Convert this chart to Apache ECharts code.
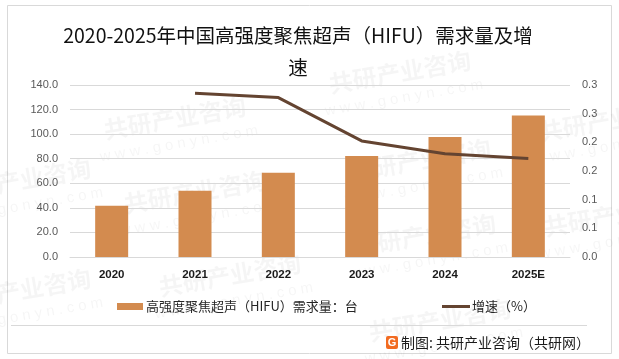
<!DOCTYPE html>
<html>
<head>
<meta charset="utf-8">
<script src="https://cdn.jsdelivr.net/npm/echarts@6/dist/echarts.min.js"></script>
<style>
html,body{margin:0;padding:0;background:#fff;}
#c{width:619px;height:359px;}
</style>
</head>
<body>
<div id="c"></div>
<script>
var titleText = '2020-2025年中国高强度聚焦超声（HIFU）需求量及增\n速';
var categories = ['2020', '2021', '2022', '2023', '2024', '2025E'];
var demand = [41.7, 53.9, 68.5, 82.3, 97.7, 115.1];
var growth = [null, 0.2855, 0.278, 0.2025, 0.180, 0.172];
var barName = '高强度聚焦超声（HIFU）需求量：台';
var lineName = '增速（%）';
var sourceText = '制图: 共研产业咨询（共研网）';
var wmMain = '共研产业咨询';
var wmSub = 'w w w . g o n y n . c o m';

var CJK = '"Noto Sans CJK SC", "Noto Sans", sans-serif';
var LAT = '"Liberation Sans", "DejaVu Sans", sans-serif';
var BAR = '#D38B4F';
var LINE = '#644431';

var wmPos = [[175,118],[195,192],[230,275],[400,72],[420,160],[425,235],[610,120],[615,215],[440,320],[20,180],[20,290]];
var graphics = [];
wmPos.forEach(function(p){
  graphics.push({type:'text', x:p[0], y:p[1], rotation:0.17, z:-1, silent:true,
    style:{text:wmMain, align:'center', verticalAlign:'middle', font:'bold 24px ' + CJK, fill:'rgba(0,0,0,0.038)'}});
  graphics.push({type:'text', x:p[0]+4, y:p[1]+26, rotation:0.17, z:-1, silent:true,
    style:{text:wmSub, align:'center', verticalAlign:'middle', font:'15px ' + LAT, fill:'rgba(0,0,0,0.038)'}});
});
graphics.push({type:'rect', z:-2, silent:true, shape:{x:7.5,y:5.5,width:604,height:348},
  style:{fill:'none', stroke:'#d9d9d9', lineWidth:1}});
graphics.push({type:'line', silent:true, shape:{x1:11,y1:325.5,x2:587,y2:325.5},
  style:{stroke:'#d9d9d9', lineWidth:1}});
graphics.push({type:'text', x:298, y:20, silent:true,
  style:{text:titleText, align:'center', verticalAlign:'top', lineHeight:32, font:'19.5px ' + CJK, fill:'#111'}});
graphics.push({type:'rect', silent:true, shape:{x:386,y:336,width:12,height:13,r:2},
  style:{fill:'#F26B21'}});
graphics.push({type:'text', x:392, y:342.5, silent:true,
  style:{text:'G', align:'center', verticalAlign:'middle', font:'bold 11px ' + LAT, fill:'#fff'}});
graphics.push({type:'text', x:401, y:343, silent:true,
  style:{text:sourceText, align:'left', verticalAlign:'middle', font:'14px ' + CJK, fill:'#1a1a1a'}});

var chart = echarts.init(document.getElementById('c'), null, {renderer:'canvas'});
chart.setOption({
  animation:false,
  backgroundColor:'#fff',
  grid:{left:70, right:49, top:85, bottom:102, containLabel:false},
  legend:[
    {data:[{name:barName, icon:'rect'}], left:117, top:300, itemWidth:26, itemHeight:7, padding:0,
     textStyle:{fontSize:13, fontFamily:CJK, color:'#262626', padding:[0,0,0,-2]}},
    {data:[{name:lineName, icon:'rect'}], left:442, top:300, itemWidth:28, itemHeight:3, padding:0,
     textStyle:{fontSize:13, fontFamily:CJK, color:'#262626', padding:[0,0,0,-3]}}
  ],
  xAxis:{type:'category', data:categories,
    axisLine:{show:true, lineStyle:{color:'#d9d9d9'}}, axisTick:{show:false},
    axisLabel:{margin:12, fontSize:11.5, fontWeight:'bold', fontFamily:LAT, color:'#1a1a1a'}},
  yAxis:[
    {type:'value', min:0, max:140, interval:20,
     axisLine:{show:false}, axisTick:{show:false},
     splitLine:{lineStyle:{color:'#d9d9d9'}},
     axisLabel:{margin:12, fontSize:11, fontFamily:LAT, color:'#595959', formatter:function(v){return v.toFixed(1);}}},
    {type:'value', min:0, max:0.3, interval:0.05, position:'right',
     axisLine:{show:false}, axisTick:{show:false}, splitLine:{show:false},
     axisLabel:{margin:12, fontSize:11, fontFamily:LAT, color:'#595959',
       formatter:function(v){return (Math.round(v*10+0.01)/10).toFixed(1);}}}
  ],
  series:[
    {name:barName, type:'bar', data:demand, barWidth:33, itemStyle:{color:BAR}, yAxisIndex:0},
    {name:lineName, type:'line', data:growth, yAxisIndex:1, showSymbol:false, symbol:'none',
     lineStyle:{width:3, color:LINE}, itemStyle:{color:LINE}}
  ],
  graphic:graphics
});
</script>
</body>
</html>
